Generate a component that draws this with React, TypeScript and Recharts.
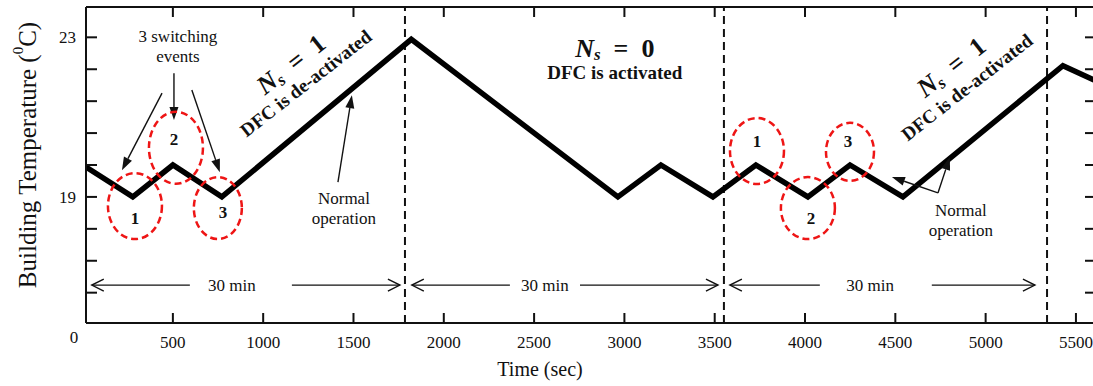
import React from 'react';
import { LineChart, Line, XAxis, YAxis, ReferenceLine, ReferenceDot } from 'recharts';

// ---- data (time in s, building temperature in °C) ----
const times = [19, 278, 500, 771, 1820, 2964, 3202, 3490, 3728, 4016, 4249, 4542, 5428, 5600];
const temps = [19.75, 19.0, 19.8, 19.0, 22.95, 19.0, 19.8, 19.0, 19.8, 19.0, 19.8, 19.0, 22.29, 21.93];
const xTicks = [500, 1000, 1500, 2000, 2500, 3000, 3500, 4000, 4500, 5000, 5500];
const yTicks = [23, 22.2, 21.4, 20.6, 19.8, 19, 18.2, 17.4, 16.6];
const yTickLabels = [23, 19];
const xDomain = [19, 5600];
const yDomain = [15.84, 23.76];
const phaseBoundaries = [1785, 3551, 5340];

// ---- annotations (data coordinates) ----
const eventEllipses = [
  { t: 290, v: 18.77, rx: 27, ry: 33, label: '1', lt: 290, lv: 18.47 },
  { t: 517, v: 20.23, rx: 27, ry: 36, label: '2', lt: 506, lv: 20.43 },
  { t: 749, v: 18.72, rx: 24, ry: 31, label: '3', lt: 777, lv: 18.62 },
  { t: 3734, v: 20.15, rx: 27, ry: 33, label: '1', lt: 3734, lv: 20.4 },
  { t: 4016, v: 18.72, rx: 27, ry: 31, label: '2', lt: 4033, lv: 18.47 },
  { t: 4249, v: 20.13, rx: 24, ry: 29, label: '3', lt: 4238, lv: 20.4 },
];
const plainNotes = [
  { t: 528, v: 23.03, text: '3 switching' },
  { t: 528, v: 22.51, text: 'events' },
  { t: 1447, v: 18.95, text: 'Normal' },
  { t: 1447, v: 18.45, text: 'operation' },
  { t: 4863, v: 18.67, text: 'Normal' },
  { t: 4863, v: 18.17, text: 'operation' },
  { t: 827, v: 16.79, text: '30 min' },
  { t: 2560, v: 16.79, text: '30 min' },
  { t: 4360, v: 16.79, text: '30 min' },
];
const stateNotes = [
  { t: 1153, v: 22.33, n: '1', dt: 1236, dv: 21.85, dfc: 'DFC is de-activated', angle: -38 },
  { t: 2947, v: 22.73, n: '0', dt: 2947, dv: 22.11, dfc: 'DFC is activated', angle: 0 },
  { t: 4808, v: 22.26, n: '1', dt: 4896, dv: 21.75, dfc: 'DFC is de-activated', angle: -38 },
];
const pointerArrows = [
  [440, 21.6, 218, 19.67],
  [506, 22.1, 506, 20.93],
  [605, 21.68, 760, 19.62],
  [1414, 19.37, 1491, 21.55],
  [4736, 19.1, 4481, 19.5],
  [4736, 19.1, 4802, 20.0],
];
const spanArrows = [
  [594, 51], [1159, 1757],
  [2366, 1823], [2754, 3518],
  [4082, 3584], [4702, 5273],
];
const spanLevel = 16.79;

const data = times.map((t, i) => ({ time: t, temp: temps[i] }));

const SERIF = '"Liberation Serif", "Times New Roman", serif';
const INK = '#111';
const RED = '#ee1515';

const none = () => <g />;

const filledArrow = (p: any) => {
  const { x1, y1, x2, y2 } = p;
  const a = Math.atan2(y2 - y1, x2 - x1);
  const L = 13, W = 4.5;
  const bx = x2 - L * Math.cos(a), by = y2 - L * Math.sin(a);
  const px = -Math.sin(a) * W, py = Math.cos(a) * W;
  return (
    <g>
      <line x1={x1} y1={y1} x2={bx} y2={by} stroke={INK} strokeWidth={1.4} />
      <polygon points={`${x2},${y2} ${bx + px},${by + py} ${bx - px},${by - py}`} fill={INK} />
    </g>
  );
};

const openArrow = (p: any) => {
  const { x1, y1, x2, y2 } = p;
  const a = Math.atan2(y2 - y1, x2 - x1);
  const L = 12, W = 6;
  const bx = x2 - L * Math.cos(a), by = y2 - L * Math.sin(a);
  const px = -Math.sin(a) * W, py = Math.cos(a) * W;
  return (
    <g fill="none" stroke={INK} strokeWidth={1.4}>
      <line x1={x1} y1={y1} x2={x2} y2={y2} />
      <polyline points={`${bx + px},${by + py} ${x2},${y2} ${bx - px},${by - py}`} />
    </g>
  );
};

export default function App() {
  return (
    <div style={{ position: 'absolute', left: 0, top: 0, width: 1093, height: 386, overflow: 'hidden', background: '#fff' }}>
      <LineChart width={1100} height={386} data={data} margin={{ top: 6, right: 5, bottom: 62, left: 85 }}>
        <XAxis
          type="number"
          dataKey="time"
          domain={xDomain}
          ticks={xTicks}
          interval={0}
          allowDataOverflow
          height={1}
          tickSize={-10}
          tickMargin={23}
          axisLine={{ stroke: INK, strokeWidth: 2 }}
          tickLine={{ stroke: INK, strokeWidth: 2 }}
          tick={{ fill: INK, fontSize: 17, fontFamily: SERIF }}
        />
        <XAxis
          xAxisId="top"
          orientation="top"
          type="number"
          dataKey="time"
          domain={xDomain}
          ticks={xTicks}
          interval={0}
          allowDataOverflow
          height={1}
          tickSize={-10}
          axisLine={{ stroke: INK, strokeWidth: 2 }}
          tickLine={{ stroke: INK, strokeWidth: 2 }}
          tick={none}
        />
        <YAxis
          type="number"
          domain={yDomain}
          ticks={yTicks}
          interval={0}
          allowDataOverflow
          width={1}
          tickSize={-11}
          tickMargin={21}
          axisLine={{ stroke: INK, strokeWidth: 2 }}
          tickLine={{ stroke: INK, strokeWidth: 2 }}
          tick={{ fill: INK, fontSize: 17, fontFamily: SERIF }}
          tickFormatter={(v: number) => (yTickLabels.includes(v) ? String(v) : '')}
        />
        <YAxis
          yAxisId="right"
          orientation="right"
          type="number"
          domain={yDomain}
          ticks={yTicks}
          interval={0}
          allowDataOverflow
          width={1}
          tickSize={-9}
          axisLine={{ stroke: INK, strokeWidth: 2 }}
          tickLine={{ stroke: INK, strokeWidth: 2 }}
          tick={none}
        />
        {phaseBoundaries.map((t) => (
          <ReferenceLine key={`pb${t}`} x={t} stroke={INK} strokeWidth={2} strokeDasharray="8 5" />
        ))}
        <Line
          type="linear"
          dataKey="temp"
          stroke="#000"
          strokeWidth={5.5}
          strokeLinejoin="miter"
          dot={false}
          activeDot={false}
          isAnimationActive={false}
        />
        {eventEllipses.map((e, i) => (
          <ReferenceDot
            key={`el${i}`}
            x={e.t}
            y={e.v}
            ifOverflow="visible"
            shape={(p: any) => (
              <ellipse cx={p.cx} cy={p.cy} rx={e.rx} ry={e.ry} fill="none" stroke={RED} strokeWidth={2.5} strokeDasharray="7 4" />
            )}
          />
        ))}
        {eventEllipses.map((e, i) => (
          <ReferenceDot
            key={`en${i}`}
            x={e.lt}
            y={e.lv}
            ifOverflow="visible"
            shape={(p: any) => (
              <text x={p.cx} y={p.cy} textAnchor="middle" dominantBaseline="central" fontFamily={SERIF} fontWeight="bold" fontSize={17} fill={INK}>
                {e.label}
              </text>
            )}
          />
        ))}
        {plainNotes.map((n, i) => (
          <ReferenceDot
            key={`pn${i}`}
            x={n.t}
            y={n.v}
            ifOverflow="visible"
            shape={(p: any) => (
              <text x={p.cx} y={p.cy} textAnchor="middle" dominantBaseline="central" fontFamily={SERIF} fontSize={17} fill={INK}>
                {n.text}
              </text>
            )}
          />
        ))}
        {stateNotes.map((s, i) => (
          <ReferenceDot
            key={`sn${i}`}
            x={s.t}
            y={s.v}
            ifOverflow="visible"
            shape={(p: any) => (
              <text
                x={p.cx}
                y={p.cy}
                textAnchor="middle"
                dominantBaseline="central"
                fontFamily={SERIF}
                fontWeight="bold"
                fontSize={26}
                fill={INK}
                transform={`rotate(${s.angle} ${p.cx} ${p.cy})`}
              >
                <tspan fontStyle="italic">N</tspan>
                <tspan fontStyle="italic" fontSize={17} dy={6}>s</tspan>
                <tspan dy={-6}>{'\u2002=\u2002' + s.n}</tspan>
              </text>
            )}
          />
        ))}
        {stateNotes.map((s, i) => (
          <ReferenceDot
            key={`sd${i}`}
            x={s.dt}
            y={s.dv}
            ifOverflow="visible"
            shape={(p: any) => (
              <text
                x={p.cx}
                y={p.cy}
                textAnchor="middle"
                dominantBaseline="central"
                fontFamily={SERIF}
                fontWeight="bold"
                fontSize={19}
                fill={INK}
                transform={`rotate(${s.angle} ${p.cx} ${p.cy})`}
              >
                {s.dfc}
              </text>
            )}
          />
        ))}
        {pointerArrows.map((a, i) => (
          <ReferenceLine
            key={`pa${i}`}
            segment={[{ x: a[0], y: a[1] }, { x: a[2], y: a[3] }]}
            ifOverflow="visible"
            shape={filledArrow}
          />
        ))}
        {spanArrows.map((a, i) => (
          <ReferenceLine
            key={`sa${i}`}
            segment={[{ x: a[0], y: spanLevel }, { x: a[1], y: spanLevel }]}
            ifOverflow="visible"
            shape={openArrow}
          />
        ))}
      </LineChart>
      <svg width={1093} height={386} style={{ position: 'absolute', left: 0, top: 0, pointerEvents: 'none' }}>
        <text x={74} y={343} textAnchor="middle" fontFamily={SERIF} fontSize={17} fill={INK}>0</text>
        <text x={540} y={376} textAnchor="middle" fontFamily={SERIF} fontSize={20} fill={INK}>Time (sec)</text>
        <text
          x={27}
          y={155}
          textAnchor="middle"
          dominantBaseline="central"
          fontFamily={SERIF}
          fontSize={25}
          fill={INK}
          transform="rotate(-90 27 155)"
        >
          Building Temperature (<tspan fontSize={15} dy={-9}>0</tspan><tspan dy={9}>C)</tspan>
        </text>
      </svg>
    </div>
  );
}
